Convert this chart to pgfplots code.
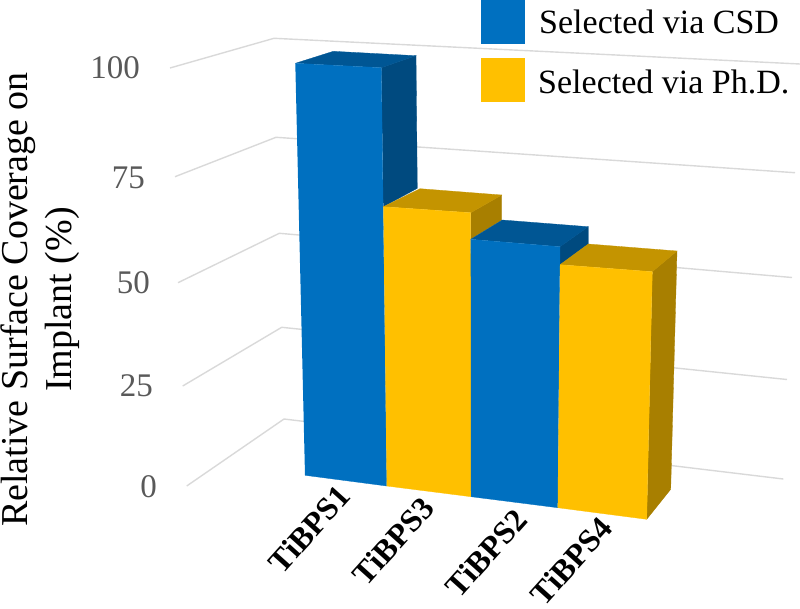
\documentclass[border=0pt]{standalone}
\usepackage{fontspec}
\setmainfont{Liberation Serif}
\usepackage{pgfplots}
\pgfplotsset{compat=1.18}
\definecolor{blueF}{RGB}{0,112,192}
\definecolor{blueT}{RGB}{0,86,148}
\definecolor{blueS}{RGB}{0,74,127}
\definecolor{yelF}{RGB}{255,192,0}
\definecolor{yelT}{RGB}{196,148,0}
\definecolor{yelS}{RGB}{168,127,0}
\definecolor{gridc}{RGB}{217,217,217}
\definecolor{tickc}{RGB}{89,89,89}

\pgfplotsset{
  face/.style={draw=#1,fill=#1,line width=0.3pt,mark=none},
  wall/.style={draw=gridc,line width=1.4pt,mark=none},
}
\tikzset{
  ticklab/.style={anchor=east,inner sep=0pt,text=tickc,font=\fontsize{33}{33}\selectfont},
  catlab/.style={rotate=48,inner sep=0pt,font=\fontsize{32}{32}\selectfont\bfseries},
  leglab/.style={anchor=base west,inner sep=0pt,font=\fontsize{34}{34}\selectfont},
}

\begin{document}
\begin{tikzpicture}
\begin{axis}[
    scale only axis,
    width=800pt, height=608pt,
    xmin=0, xmax=800,
    ymin=0, ymax=608,
    y dir=reverse,
    hide axis,
    clip=false,
  ]
  % walls: side gridline then back gridline, one per tick
  \addplot[wall] coordinates {(170,68)(274,38.3)(800,64)};
  \addplot[wall] coordinates {(175,176.7)(276,137.3)(795,172.7)};
  \addplot[wall] coordinates {(178,282.7)(279.3,233.3)(792,277.5)};
  \addplot[wall] coordinates {(182.7,386)(281.7,327.3)(787,379.5)};
  \addplot[wall] coordinates {(186.7,486)(284,419)(783.3,479)};

  % TiBPS1
  \addplot[face=blueS] coordinates {(381.3,67.7)(416,55.7)(417.3,188.3)(383.3,206.7)};
  \addplot[face=blueT] coordinates {(295.3,63.3)(333.3,51.3)(416,55.7)(381.3,67.7)};
  \addplot[face=blueF] coordinates {(295.3,63.3)(381.3,67.7)(386.7,486)(305,475.3)};
  % TiBPS3
  \addplot[face=yelS] coordinates {(470.7,212.7)(501.7,195)(501.7,220)(470.7,239)};
  \addplot[face=yelT] coordinates {(383.3,206.7)(420,188.7)(501.7,195)(470.7,212.7)};
  \addplot[face=yelF] coordinates {(383.3,206.7)(470.7,212.7)(471,496.7)(386.7,486)};
  % TiBPS2
  \addplot[face=blueS] coordinates {(560,246.7)(588.3,226.7)(588.3,244)(560,264.7)};
  \addplot[face=blueT] coordinates {(470.7,239.3)(502.3,220)(588.3,226.7)(560,246.7)};
  \addplot[face=blueF] coordinates {(470.7,239.3)(560,246.7)(557.7,507.7)(471,496.7)};
  % TiBPS4
  \addplot[face=yelS] coordinates {(652.3,271.7)(677,251)(670.7,489.3)(646.7,519.3)};
  \addplot[face=yelT] coordinates {(560,264.7)(588.3,244)(677,251)(652.3,271.7)};
  \addplot[face=yelF] coordinates {(560,264.7)(652.3,271.7)(646.7,519.3)(557.7,507.7)};

  % legend swatches
  \addplot[face=blueF] coordinates {(481,0)(524,0)(524,42.7)(481,42.7)};
  \addplot[face=yelF] coordinates {(481,58.3)(524,58.3)(524,100.7)(481,100.7)};
  \node[leglab] at (axis cs:539,33) {Selected via CSD};
  \node[leglab] at (axis cs:538,93) {Selected via Ph.D.};

  % value axis labels
  \node[ticklab] at (axis cs:157,486.7) {0};
  \node[ticklab] at (axis cs:153,386) {25};
  \node[ticklab] at (axis cs:150,283) {50};
  \node[ticklab] at (axis cs:145,177.7) {75};
  \node[ticklab] at (axis cs:140,68) {100};

  % category labels
  \node[catlab] at (axis cs:309,529) {TiBPS1};
  \node[catlab] at (axis cs:393,541) {TiBPS3};
  \node[catlab] at (axis cs:486,553) {TiBPS2};
  \node[catlab] at (axis cs:571,561) {TiBPS4};

  % axis title
  \node[rotate=90,align=center,inner sep=0pt,font=\fontsize{38}{44}\selectfont] at (axis cs:40,299.5)
    {Relative Surface Coverage on\\Implant (\%)};
\end{axis}
\pgfresetboundingbox
\useasboundingbox (0,0) rectangle (800pt,608pt);
\end{tikzpicture}
\end{document}
